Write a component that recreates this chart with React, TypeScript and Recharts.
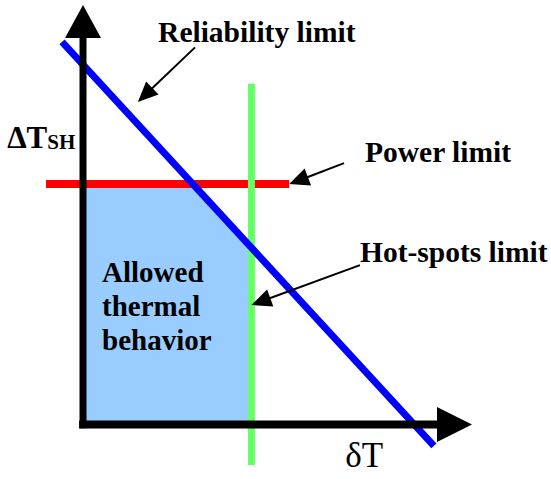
import React from "react";
import { ComposedChart, XAxis, YAxis, Line, Area, ReferenceLine, ReferenceDot } from "recharts";

// Axis domains (schematic units: axis arrow tips at 10)
const X_DOMAIN: [number, number] = [-2.134, 12.031];
const Y_DOMAIN: [number, number] = [-1.299, 10.119];

// Limits
const reliabilityLimit = [
  { x: -0.54, y: 9.12 },
  { x: 9.02, y: -0.51 },
];
const powerLimit = [
  { x: -0.95, y: 5.73 },
  { x: 5.3, y: 5.73 },
];
const hotSpotsLimit = [
  { x: 4.33, y: 8.12 },
  { x: 4.33, y: -0.97 },
];
// Allowed region (under power limit, reliability limit, left of hot-spots limit)
const allowedRegion = [
  { x: 0, y: 5.73 },
  { x: 2.83, y: 5.73 },
  { x: 4.33, y: 4.21 },
];

// Axes
const yAxisArrow = [{ x: 0, y: -0.09 }, { x: 0, y: 10 }];
const xAxisArrow = [{ x: -0.1, y: 0 }, { x: 10, y: 0 }];

// Annotation pointer arrows [from, to]
const pointerArrows = [
  [{ x: 2.88, y: 8.99 }, { x: 1.41, y: 7.69 }],
  [{ x: 6.71, y: 6.23 }, { x: 5.3, y: 5.73 }],
  [{ x: 7.12, y: 3.8 }, { x: 4.33, y: 2.85 }],
];

// Labels
const labels = [
  { x: 1.93, y: 9.12, text: "Reliability limit" },
  { x: 7.25, y: 6.26, text: "Power limit" },
  { x: 7.12, y: 3.87, text: "Hot-spots limit" },
];
const allowedLabel = { x: 0.49, y: 3.4, lines: ["Allowed", "thermal", "behavior"] };
const yTitle = { x: -1.95, y: 6.59, main: "ΔT", sub: "SH" };
const xTitle = { x: 6.74, y: -1.01, text: "δT" };

const FONT = "'Liberation Serif', 'Times New Roman', serif";

const makeArrow = (width: number, headLen: number, headHalf: number) => (props: any) => {
  const { x1, y1, x2, y2 } = props;
  const dx = x2 - x1;
  const dy = y2 - y1;
  const len = Math.hypot(dx, dy) || 1;
  const ux = dx / len;
  const uy = dy / len;
  const bx = x2 - ux * headLen;
  const by = y2 - uy * headLen;
  const px = -uy;
  const py = ux;
  return (
    <g>
      <line x1={x1} y1={y1} x2={bx + ux * 2} y2={by + uy * 2} stroke="#000" strokeWidth={width} />
      <polygon
        points={`${x2},${y2} ${bx + px * headHalf},${by + py * headHalf} ${bx - px * headHalf},${by - py * headHalf}`}
        fill="#000"
      />
    </g>
  );
};

const textShape = (text: string, size: number, weight: string) => (props: any) => (
  <text x={props.cx} y={props.cy} fontFamily={FONT} fontSize={size} fontWeight={weight} fill="#000">
    {text}
  </text>
);

export default function App() {
  return (
    <div style={{ position: "absolute", left: 0, top: 0, width: 551, height: 479 }}>
      <ComposedChart width={551} height={479} margin={{ top: 0, right: 0, bottom: 0, left: 0 }}>
        <XAxis type="number" dataKey="x" domain={X_DOMAIN} hide allowDataOverflow />
        <YAxis type="number" dataKey="y" domain={Y_DOMAIN} hide allowDataOverflow />
        <Area
          data={allowedRegion}
          dataKey="y"
          type="linear"
          baseValue={0}
          stroke="none"
          fill="#99CCFF"
          fillOpacity={1}
          isAnimationActive={false}
        />
        <Line data={powerLimit} dataKey="y" type="linear" stroke="#FF0000" strokeWidth={8} dot={false} activeDot={false} isAnimationActive={false} />
        <Line data={hotSpotsLimit} dataKey="y" type="linear" stroke="#66FF66" strokeWidth={7} dot={false} activeDot={false} isAnimationActive={false} />
        <Line data={reliabilityLimit} dataKey="y" type="linear" stroke="#0000FF" strokeWidth={7} dot={false} activeDot={false} isAnimationActive={false} />
        {pointerArrows.map((seg, i) => (
          <ReferenceLine key={"p" + i} segment={seg} ifOverflow="visible" shape={makeArrow(2, 20, 9)} />
        ))}
        <ReferenceLine segment={yAxisArrow} ifOverflow="visible" shape={makeArrow(7, 33, 18)} />
        <ReferenceLine segment={xAxisArrow} ifOverflow="visible" shape={makeArrow(8, 35, 17.5)} />
        {labels.map((l, i) => (
          <ReferenceDot key={"l" + i} x={l.x} y={l.y} r={0} ifOverflow="visible" shape={textShape(l.text, 29.5, "bold")} />
        ))}
        <ReferenceDot
          x={allowedLabel.x}
          y={allowedLabel.y}
          r={0}
          ifOverflow="visible"
          shape={(p: any) => (
            <text x={p.cx} y={p.cy} fontFamily={FONT} fontSize={29} fontWeight="bold" fill="#000">
              {allowedLabel.lines.map((ln, i) => (
                <tspan key={i} x={p.cx} dy={i === 0 ? 0 : 34}>
                  {ln}
                </tspan>
              ))}
            </text>
          )}
        />
        <ReferenceDot
          x={yTitle.x}
          y={yTitle.y}
          r={0}
          ifOverflow="visible"
          shape={(p: any) => (
            <text x={p.cx} y={p.cy} fontFamily={FONT} fontWeight="bold" fill="#000">
              <tspan fontSize={31}>{yTitle.main}</tspan>
              <tspan fontSize={21} dy={1}>{yTitle.sub}</tspan>
            </text>
          )}
        />
        <ReferenceDot x={xTitle.x} y={xTitle.y} r={0} ifOverflow="visible" shape={textShape(xTitle.text, 35, "normal")} />
      </ComposedChart>
    </div>
  );
}
